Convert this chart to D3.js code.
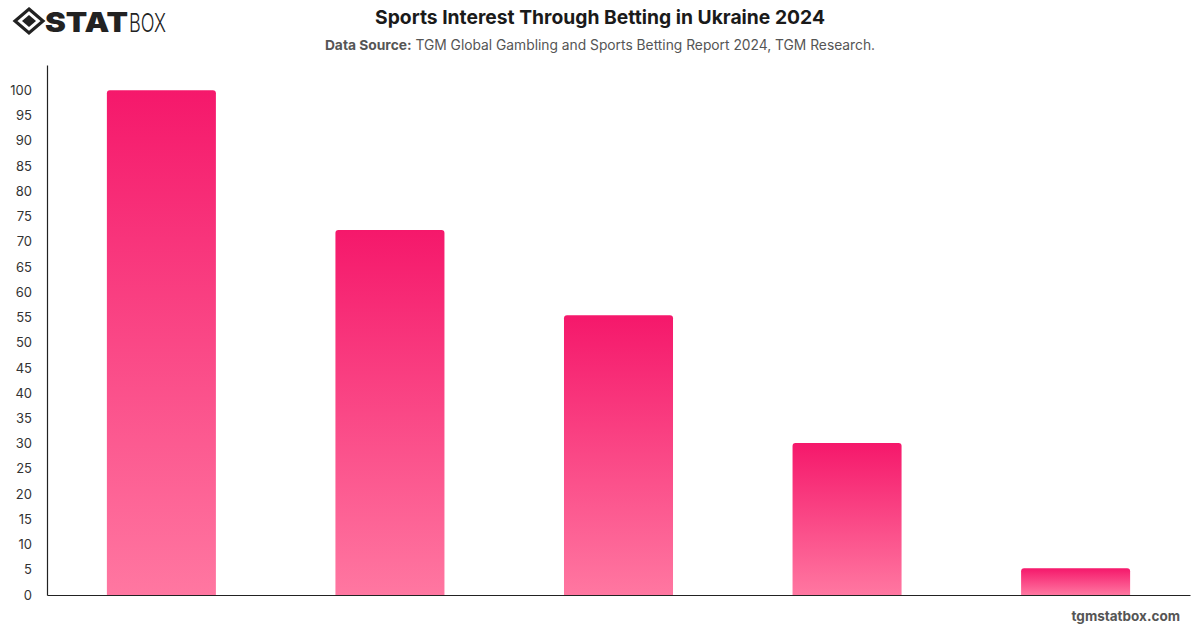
<!DOCTYPE html>
<html>
<head>
<meta charset="utf-8">
<script src="https://cdn.jsdelivr.net/npm/d3@7"></script>
<style>
  html, body { margin: 0; padding: 0; background: #fff; }
  svg { display: block; font-family: Inter, "Liberation Sans", Arial, sans-serif; }
</style>
</head>
<body>
<svg id="chart" width="1200" height="628"></svg>
<script>
const categories = ["Category 1", "Category 2", "Category 3", "Category 4", "Category 5"];
const values = [100, 72.3, 55.4, 30.1, 5.3];
const yTicks = [0,5,10,15,20,25,30,35,40,45,50,55,60,65,70,75,80,85,90,95,100];
const title = "Sports Interest Through Betting in Ukraine 2024";
const sourceLabel = "Data Source:";
const sourceText = " TGM Global Gambling and Sports Betting Report 2024, TGM Research.";
const footer = "tgmstatbox.com";

const svg = d3.select("#chart");
const margin = {left: 47, right: 10, top: 65, bottom: 33};
const W = 1200, H = 628;
const plotW = W - margin.left - margin.right;
const plotH = H - margin.top - margin.bottom;

const defs = svg.append("defs");
const grad = defs.append("linearGradient").attr("id", "barGrad")
  .attr("x1", 0).attr("y1", 0).attr("x2", 0).attr("y2", 1);
grad.append("stop").attr("offset", "0%").attr("stop-color", "#f5186b");
grad.append("stop").attr("offset", "100%").attr("stop-color", "#ff77a1");

const x = d3.scaleBand().domain(categories).range([margin.left, margin.left + plotW])
  .paddingInner(0.523).paddingOuter(0.262);
const y = d3.scaleLinear().domain([0, 105]).range([margin.top + plotH, margin.top]);

// bars with rounded top corners
const r = 3;
svg.append("g").selectAll("path").data(values).join("path")
  .attr("fill", "url(#barGrad)")
  .attr("d", (d, i) => {
    const x0 = x(categories[i]), w = x.bandwidth();
    const y0 = y(d), yb = y(0);
    return `M${x0},${yb}V${y0 + r}Q${x0},${y0} ${x0 + r},${y0}H${x0 + w - r}Q${x0 + w},${y0} ${x0 + w},${y0 + r}V${yb}Z`;
  });

// y axis
const yAxis = svg.append("g").attr("transform", `translate(${margin.left},0)`)
  .call(d3.axisLeft(y).tickValues(yTicks).tickSize(0).tickPadding(15));
yAxis.select(".domain").attr("stroke", "#222").attr("stroke-width", 1.2);
yAxis.selectAll("text").attr("font-size", 13).attr("fill", "#333")
  .attr("font-family", "Inter, 'Liberation Sans', Arial, sans-serif");

// x axis
const xAxis = svg.append("g").attr("transform", `translate(0,${y(0)})`)
  .call(d3.axisBottom(x).tickSize(0).tickFormat(""));
xAxis.select(".domain").attr("stroke", "#222").attr("stroke-width", 1.2);

// title
svg.append("text").attr("x", 600).attr("y", 24).attr("text-anchor", "middle")
  .attr("font-size", 19.3).attr("font-weight", 700).attr("fill", "#1a1a1a").text(title);
const sub = svg.append("text").attr("x", 600).attr("y", 50).attr("text-anchor", "middle")
  .attr("font-size", 13.8).attr("fill", "#555");
sub.append("tspan").attr("font-weight", 700).text(sourceLabel);
sub.append("tspan").text(sourceText);

// footer
svg.append("text").attr("x", 1180).attr("y", 621).attr("text-anchor", "end")
  .attr("font-size", 13.5).attr("font-weight", 700).attr("fill", "#555").text(footer);

// logo
const logo = svg.append("g").attr("transform", "translate(14,8)");
logo.append("path").attr("d", "M15,1 L29,13 L15,25 L1,13 Z").attr("fill", "none")
  .attr("stroke", "#222").attr("stroke-width", 3.2).attr("stroke-linejoin", "miter");
logo.append("path").attr("d", "M15,7 L22,13 L15,19 L8,13 Z").attr("fill", "#222");
logo.append("text").attr("x", 31).attr("y", 24).attr("font-size", 27).attr("font-weight", 900)
  .attr("fill", "#222").attr("textLength", 83).attr("lengthAdjust", "spacingAndGlyphs")
  .attr("font-family", "Inter, sans-serif").text("STAT");
logo.append("text").attr("x", 115).attr("y", 24).attr("font-size", 26).attr("font-weight", 300)
  .attr("fill", "#222").attr("textLength", 37).attr("lengthAdjust", "spacingAndGlyphs")
  .attr("font-family", "Inter, sans-serif").text("BOX");
</script>
</body>
</html>
